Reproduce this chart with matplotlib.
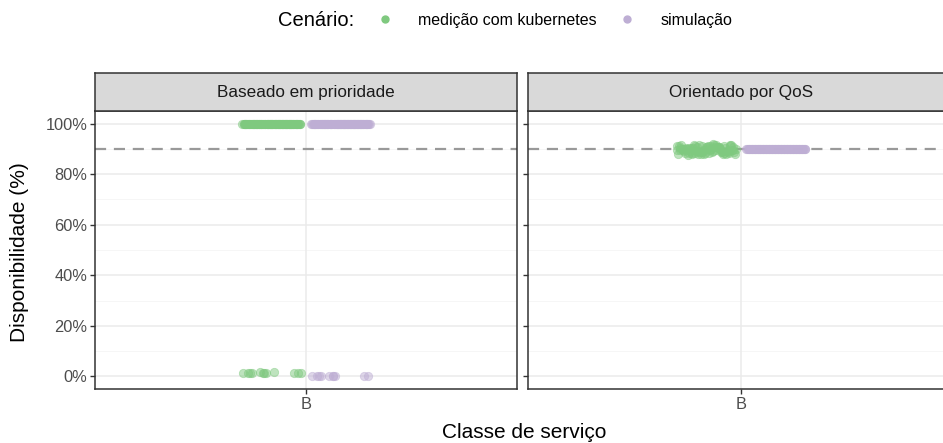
import numpy as np
import matplotlib
matplotlib.use("Agg")
import matplotlib.pyplot as plt
from matplotlib.lines import Line2D

plt.rcParams['font.family'] = ['Liberation Sans', 'DejaVu Sans']

# ---- data ----
panels = ["Baseado em prioridade", "Orientado por QoS"]
scenarios = ["medição com kubernetes", "simulação"]
categories = ["B"]
threshold = 90
yticks = [0, 20, 40, 60, 80, 100]
ytick_labels = ["0%", "20%", "40%", "60%", "80%", "100%"]

# availability (%) per run
prio_kube = [100] * 90 + [1.6, 1.4, 1.5, 1.3, 1.5, 1.2, 1.4, 1.3, 1.5, 1.4,
                          1.6, 1.5]
prio_sim = [100] * 90 + [0.2, 0.1, 0.3, 0.2, 0.1, 0.2, 0.3, 0.2, 0.1, 0.2]
qos_kube = [89.5, 90.8, 88.2, 91.5, 89.9, 87.8, 90.3, 88.9, 91.2, 89.1,
            90.6, 88.5, 91.8, 89.7, 88.0, 90.1, 89.3, 91.0, 88.7, 90.4,
            87.9, 89.6, 91.3, 88.4, 90.9, 89.2, 90.0, 88.1, 91.6, 89.8,
            90.5, 88.6, 89.4, 91.1, 88.3, 90.2, 89.0, 90.7, 88.8, 91.4,
            88.9, 90.2, 87.7, 91.0, 89.6, 88.4, 90.9, 89.1, 91.7, 88.6,
            90.1, 89.4, 87.9, 91.2, 88.8, 90.6, 89.8, 88.1, 91.4, 89.3,
            90.4, 88.7, 91.1, 89.0, 88.3, 90.7, 89.5, 87.8, 91.5, 90.0,
            88.5, 90.3, 89.7, 91.3, 88.2, 90.8, 89.2, 88.0, 91.6, 89.9]
qos_sim = [90.0] * 80

data = {
    (0, 0): prio_kube, (0, 1): prio_sim,
    (1, 0): qos_kube, (1, 1): qos_sim,
}

colors = ["#7FC97F", "#BEAED4"]

W, H = 943, 443
fig = plt.figure(figsize=(W / 100, H / 100), dpi=100)

def px_axes(x0, y0, x1, y1):
    return fig.add_axes([x0 / W, 1 - y1 / H, (x1 - x0) / W, (y1 - y0) / H])

panel_x = [(95, 517), (528, 954)]
ptop, pbot = 111, 389
stop = 73

dodge = 0.098
jit = 0.083

for pi, (x0, x1) in enumerate(panel_x):
    ax = px_axes(x0, ptop, x1, pbot)
    ax.set_xlim(0.4, 1.6)
    ax.set_ylim(-5, 105)
    ax.set_facecolor("white")
    for y in [10, 30, 50, 70, 90]:
        ax.axhline(y, color="#F5F5F5", lw=0.6, zorder=0)
    for y in yticks:
        ax.axhline(y, color="#EBEBEB", lw=1.1, zorder=0)
    ax.axvline(1, color="#EBEBEB", lw=1.1, zorder=0)
    ax.axhline(threshold, color="#999999", lw=1.6, ls=(0, (5, 3.5)), zorder=1)
    for si in range(2):
        vals = np.array(data[(pi, si)], dtype=float)
        n = len(vals)
        offs = np.linspace(-jit, jit, n)
        order = np.argsort(np.sin(np.arange(n) * 12.9898) * 43758.5453 % 1)
        xs = 1 + (si - 0.5) * 2 * dodge + offs[order]
        ax.scatter(xs, vals, s=36, color=colors[si], alpha=0.5,
                   edgecolors=colors[si], linewidths=0.6, zorder=2)
    ax.set_xticks([1])
    ax.set_xticklabels(categories)
    ax.set_yticks(yticks)
    if pi == 0:
        ax.set_yticklabels(ytick_labels)
    else:
        ax.set_yticklabels([])
        ax.tick_params(axis="y", length=0)
    ax.tick_params(axis="both", colors="#333333", labelcolor="#4D4D4D",
                   labelsize=11.8, length=3.5, width=1, pad=2)
    for sp in ax.spines.values():
        sp.set_color("#333333")
        sp.set_linewidth(1.1)
    # strip
    sax = px_axes(x0, stop, x1, ptop)
    sax.set_facecolor("#D9D9D9")
    sax.set_xticks([])
    sax.set_yticks([])
    for sp in sax.spines.values():
        sp.set_color("#333333")
        sp.set_linewidth(1.1)
    sax.text(0.5, 0.5, panels[pi], ha="center", va="center",
             fontsize=12.3, color="#1A1A1A", transform=sax.transAxes)

fig.text(20 / W, 1 - 252 / H, "Disponibilidade (%)", rotation=90,
         ha="center", va="center", fontsize=15)
fig.text(524 / W, 1 - 432 / H, "Classe de serviço", ha="center",
         va="center", fontsize=15)

# legend
fig.text(316 / W, 1 - 20 / H, "Cenário:", ha="center", va="center", fontsize=14.5)
handles = [Line2D([], [], marker="o", ls="", color=c, markersize=5) for c in colors]
fig.legend(handles, scenarios, loc="center left", ncol=2,
           bbox_to_anchor=(361 / W, 1 - 20 / H), frameon=False, fontsize=11.5,
           handletextpad=1.5, columnspacing=1.25, handlelength=1.2)

fig.savefig("out.png", dpi=100, facecolor="white")
